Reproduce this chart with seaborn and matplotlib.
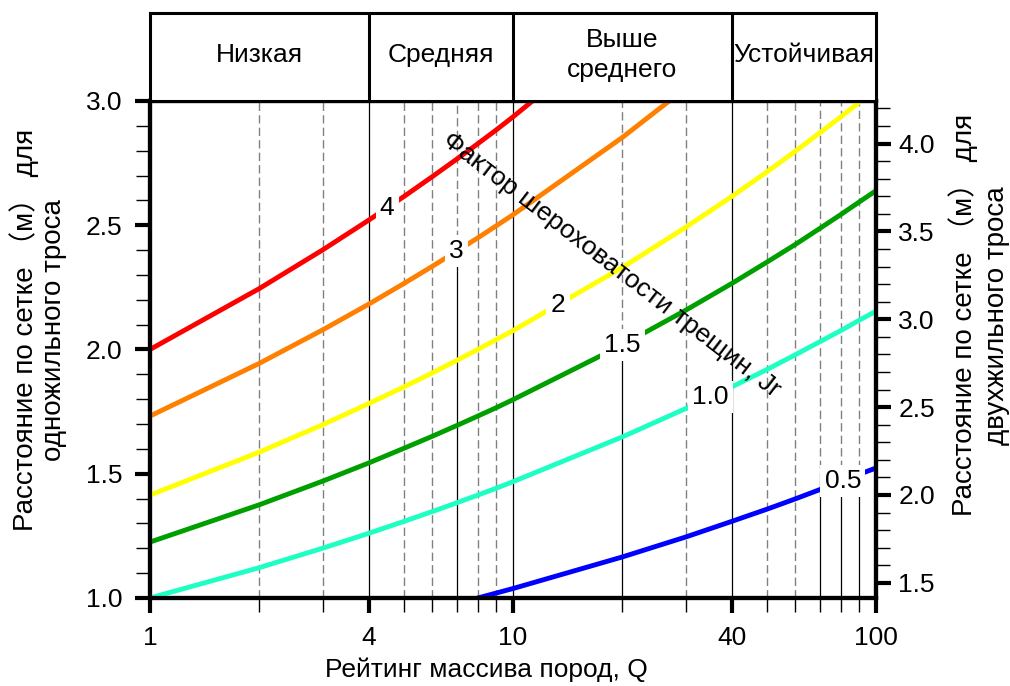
import numpy as np
import pandas as pd
import seaborn as sns
import matplotlib.pyplot as plt

sns.set_theme(style="ticks")
plt.rcParams['font.family'] = ['Liberation Sans', 'Noto Sans CJK SC', 'DejaVu Sans']
plt.rcParams['text.color'] = 'black'
plt.rcParams['axes.labelcolor'] = 'black'
plt.rcParams['xtick.color'] = 'black'
plt.rcParams['ytick.color'] = 'black'

# Rock mass quality Q vs. bolt spacing, one curve per joint roughness Jr
q_full = [1, 2, 3, 4, 5, 6, 7, 8, 9, 10, 20, 30, 40, 50, 60, 70, 80, 90, 100]
red_q = [1, 2, 3, 4, 5, 6, 7, 8, 9, 10, 20]
red_s = [2.000, 2.245, 2.402, 2.520, 2.615, 2.696, 2.766, 2.828, 2.884, 2.936, 3.295]
orange_q = [1, 2, 3, 4, 5, 6, 7, 8, 9, 10, 20, 30]
orange_s = [1.732, 1.944, 2.080, 2.182, 2.265, 2.335, 2.396, 2.449, 2.498, 2.542, 2.853, 3.053]
yellow_s = [1.414, 1.587, 1.698, 1.782, 1.849, 1.906, 1.956, 2.000, 2.040, 2.076,
            2.330, 2.493, 2.615, 2.714, 2.798, 2.872, 2.936, 2.995, 3.047]
green_s = [1.225, 1.375, 1.471, 1.543, 1.602, 1.651, 1.694, 1.732, 1.766, 1.798,
           2.018, 2.159, 2.265, 2.351, 2.423, 2.487, 2.543, 2.594, 2.639]
cyan_s = [1.000, 1.122, 1.201, 1.260, 1.308, 1.348, 1.383, 1.414, 1.442, 1.468,
          1.648, 1.763, 1.849, 1.919, 1.979, 2.031, 2.076, 2.118, 2.154]
blue_q = [8, 9, 10, 20, 30, 40, 50, 60, 70, 80, 90, 100]
blue_s = [1.000, 1.020, 1.038, 1.165, 1.246, 1.308, 1.357, 1.399, 1.436, 1.468, 1.498, 1.523]

jr_labels = ['4', '3', '2', '1.5', '1.0', '0.5']
jr_colors = ['#ff0000', '#ff8000', '#ffff00', '#009f00', '#1effc4', '#0000ff']
label_q = [4.5, 7, 13.3, 20, 35, 81]   # where the Jr number sits on each curve

classes = ['Низкая', 'Средняя', 'Выше\nсреднего', 'Устойчивая']
class_edges = [1, 4, 10, 40, 100]

x_major = [1, 4, 10, 40, 100]
x_minor = [2, 3, 5, 6, 7, 8, 9, 20, 30, 50, 60, 70, 80, 90]
two_strand_factor = 1.414

FS = 19

series = [(red_q, red_s), (orange_q, orange_s), (q_full, yellow_s),
          (q_full, green_s), (q_full, cyan_s), (blue_q, blue_s)]
frames = []
for jr, (q, s) in zip(jr_labels, series):
    frames.append(pd.DataFrame({'Q': q, 'S': s, 'Jr': jr}))
df = pd.concat(frames, ignore_index=True)

fig = plt.figure(figsize=(10.1, 6.86), dpi=100)
ax = fig.add_axes([0.1485, 0.1283, 0.7188, 0.7245])
ax.set_xscale('log')
ax.set_xlim(1, 100)
ax.set_ylim(1.0, 3.0)

sns.lineplot(data=df, x='Q', y='S', hue='Jr', hue_order=jr_labels,
             palette=jr_colors, linewidth=3.5, legend=False, estimator=None,
             ax=ax, zorder=3)

# label positions on the curves
label_y = {}
for jr, lq, (q, s) in zip(jr_labels, label_q, series):
    y = np.interp(np.log10(lq), np.log10(q), s)
    label_y[jr] = y
    ax.text(lq, y, jr, fontsize=FS, ha='center', va='center', zorder=6,
            bbox=dict(facecolor='white', edgecolor='none', pad=3))

# vertical grid
split = {7: '3', 20: '1.5', 70: '0.5', 80: '0.5', 90: '0.5'}
for xq in x_minor:
    if xq in split:
        yf = (label_y[split[xq]] - 1.0) / 2.0
        ax.axvline(xq, ymin=0, ymax=yf, color='black', lw=0.9, zorder=1)
        ax.axvline(xq, ymin=yf, ymax=1, color='#808080', lw=1, ls=(0, (6, 3)), zorder=1)
    else:
        ax.axvline(xq, color='#808080', lw=1, ls=(0, (6, 3)), zorder=1)
for xq in [4, 10, 40]:
    ax.axvline(xq, color='black', lw=0.9, zorder=1)

ax.text(18.7, 2.34, 'Фактор шероховатости трещин, Jr', rotation=-37.5,
        rotation_mode='anchor', ha='center', va='center', fontsize=FS, zorder=5)

ax.set_xticks(x_major)
ax.set_xticklabels([str(v) for v in x_major])
ax.set_xticks(x_minor, minor=True)
ax.set_xticklabels([], minor=True)
ax.set_yticks(np.arange(1.0, 3.01, 0.5))
ax.set_yticks(np.arange(1.0, 3.01, 0.1), minor=True)
ax.set_yticklabels([f'{v:.1f}' for v in np.arange(1.0, 3.01, 0.5)])
ax.tick_params(which='major', direction='out', length=11, width=3, labelsize=FS, pad=9)
ax.tick_params(which='minor', direction='out', length=10, width=1)
for sp in ax.spines.values():
    sp.set_linewidth(3)
    sp.set_color('black')

ax.set_xlabel('Рейтинг массива пород, Q', fontsize=FS)
ax.xaxis.set_label_coords(0.464, -0.12)
ax.set_ylabel('Расстояние по сетке （м） для\nодножильного троса', fontsize=20,
              linespacing=1.1)
ax.yaxis.set_label_coords(-0.114, 0.539)

ax2 = ax.twinx()
ax2.set_ylim(1.0 * two_strand_factor, 3.0 * two_strand_factor)
ax2.set_yticks(np.arange(1.5, 4.01, 0.5))
ax2.set_yticks(np.arange(1.5, 4.21, 0.1), minor=True)
ax2.set_yticklabels([f'{v:.1f}' for v in np.arange(1.5, 4.01, 0.5)])
ax2.tick_params(which='major', direction='out', length=11, width=3, labelsize=FS, pad=5)
ax2.tick_params(which='minor', direction='out', length=10, width=1)
for sp in ax2.spines.values():
    sp.set_linewidth(3)
    sp.set_color('black')
ax2.set_ylabel('Расстояние по сетке （м） для\nдвухжильного троса', fontsize=20,
               linespacing=1.3)
ax2.yaxis.set_label_coords(1.100, 0.569)

# class header above the chart
hax = fig.add_axes([0.1485, 0.8528, 0.7188, 0.1283])
hax.set_xscale('log')
hax.set_xlim(1, 100)
hax.set_ylim(0, 1)
hax.set_xticks([])
hax.set_yticks([])
hax.minorticks_off()
for sp in hax.spines.values():
    sp.set_linewidth(2.2)
    sp.set_color('black')
for e in class_edges[1:-1]:
    hax.axvline(e, color='black', lw=2.2)
for name, lo, hi in zip(classes, class_edges[:-1], class_edges[1:]):
    hax.text(np.sqrt(lo * hi), 0.52, name, ha='center', va='center', fontsize=FS,
             linespacing=1.3)

fig.savefig('out.png', dpi=100)
